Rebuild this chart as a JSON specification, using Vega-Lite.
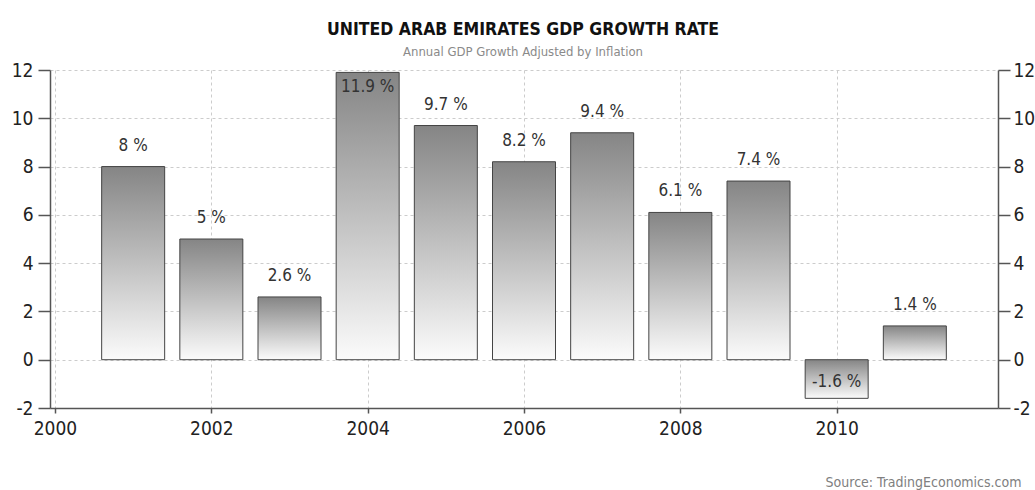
{
  "$schema": "https://vega.github.io/schema/vega-lite/v6.json",
  "width": 948,
  "height": 338,
  "autosize": {"type": "none"},
  "padding": {"left": 50, "top": 70, "right": 37, "bottom": 82},
  "background": "white",
  "title": {
    "text": "UNITED ARAB EMIRATES GDP GROWTH RATE",
    "subtitle": "Annual GDP Growth Adjusted by Inflation",
    "anchor": "middle",
    "dx": -1,
    "offset": 2,
    "font": "DejaVu Sans Condensed, DejaVu Sans",
    "fontSize": 17.5,
    "fontWeight": "bold",
    "color": "#111111",
    "subtitleFont": "DejaVu Sans Condensed, DejaVu Sans",
    "subtitleFontSize": 13,
    "subtitleColor": "#8a8a8a",
    "subtitlePadding": 8
  },
  "config": {
    "view": {"stroke": null},
    "axis": {
      "labelFont": "DejaVu Sans Condensed, DejaVu Sans",
      "labelFontSize": 19,
      "labelColor": "#222222",
      "domainColor": "#555555",
      "domainWidth": 1.5,
      "tickColor": "#555555",
      "tickWidth": 1.5,
      "gridColor": "#cccccc",
      "gridDash": [3, 3],
      "gridWidth": 1
    }
  },
  "data": {
    "values": [
      {"year": 2001, "value": 8, "label": "8 %"},
      {"year": 2002, "value": 5, "label": "5 %"},
      {"year": 2003, "value": 2.6, "label": "2.6 %"},
      {"year": 2004, "value": 11.9, "label": "11.9 %"},
      {"year": 2005, "value": 9.7, "label": "9.7 %"},
      {"year": 2006, "value": 8.2, "label": "8.2 %"},
      {"year": 2007, "value": 9.4, "label": "9.4 %"},
      {"year": 2008, "value": 6.1, "label": "6.1 %"},
      {"year": 2009, "value": 7.4, "label": "7.4 %"},
      {"year": 2010, "value": -1.6, "label": "-1.6 %"},
      {"year": 2011, "value": 1.4, "label": "1.4 %"}
    ]
  },
  "encoding": {
    "x": {
      "field": "year",
      "type": "quantitative",
      "scale": {"domain": [2000, 2012], "nice": false, "zero": false},
      "axis": {
        "values": [2000, 2002, 2004, 2006, 2008, 2010],
        "format": "d",
        "grid": true,
        "tickSize": 5,
        "labelPadding": 6,
        "title": "Source: TradingEconomics.com",
        "titleFont": "DejaVu Sans Condensed, DejaVu Sans",
        "titleFontSize": 14,
        "titleFontWeight": "normal",
        "titleColor": "#808080",
        "titleAnchor": "end",
        "titleAlign": "right",
        "titleBaseline": "alphabetic",
        "titleX": 971,
        "titleY": 78
      }
    }
  },
  "layer": [
    {
      "mark": {
        "type": "bar",
        "size": 63,
        "stroke": "#444444",
        "strokeWidth": 1,
        "color": {
          "gradient": "linear",
          "x1": 0, "y1": 0, "x2": 0, "y2": 1,
          "stops": [
            {"offset": 0, "color": "#858585"},
            {"offset": 1, "color": "#fbfbfb"}
          ]
        }
      },
      "encoding": {
        "y": {
          "field": "value",
          "type": "quantitative",
          "scale": {"domain": [-2, 12], "nice": false},
          "axis": {
            "orient": "left",
            "values": [-2, 0, 2, 4, 6, 8, 10, 12],
            "labelExpr": "'' + datum.value",
            "grid": true,
            "tickSize": 12,
            "labelPadding": 5,
            "title": null
          }
        }
      }
    },
    {
      "transform": [{"filter": "datum.value >= 0 && datum.value < 11"}],
      "mark": {
        "type": "text",
        "font": "DejaVu Sans Condensed, DejaVu Sans",
        "fontSize": 17,
        "color": "#333333",
        "baseline": "middle",
        "dy": -21
      },
      "encoding": {
        "y": {
          "field": "value",
          "type": "quantitative",
          "scale": {"domain": [-2, 12], "nice": false},
          "axis": {
            "orient": "right",
            "values": [-2, 0, 2, 4, 6, 8, 10, 12],
            "labelExpr": "'' + datum.value",
            "grid": false,
            "tickSize": 12,
            "labelPadding": 3,
            "title": null
          }
        },
        "text": {"field": "label"}
      }
    },
    {
      "transform": [{"filter": "datum.value >= 11"}],
      "mark": {
        "type": "text",
        "font": "DejaVu Sans Condensed, DejaVu Sans",
        "fontSize": 17,
        "color": "#333333",
        "baseline": "middle",
        "dy": 15
      },
      "encoding": {
        "y": {
          "field": "value",
          "type": "quantitative",
          "scale": {"domain": [-2, 12], "nice": false},
          "axis": null
        },
        "text": {"field": "label"}
      }
    },
    {
      "transform": [{"filter": "datum.value < 0"}],
      "mark": {
        "type": "text",
        "font": "DejaVu Sans Condensed, DejaVu Sans",
        "fontSize": 17,
        "color": "#333333",
        "baseline": "middle",
        "dy": -16
      },
      "encoding": {
        "y": {
          "field": "value",
          "type": "quantitative",
          "scale": {"domain": [-2, 12], "nice": false},
          "axis": null
        },
        "text": {"field": "label"}
      }
    }
  ],
  "resolve": {"scale": {"y": "independent"}}
}
